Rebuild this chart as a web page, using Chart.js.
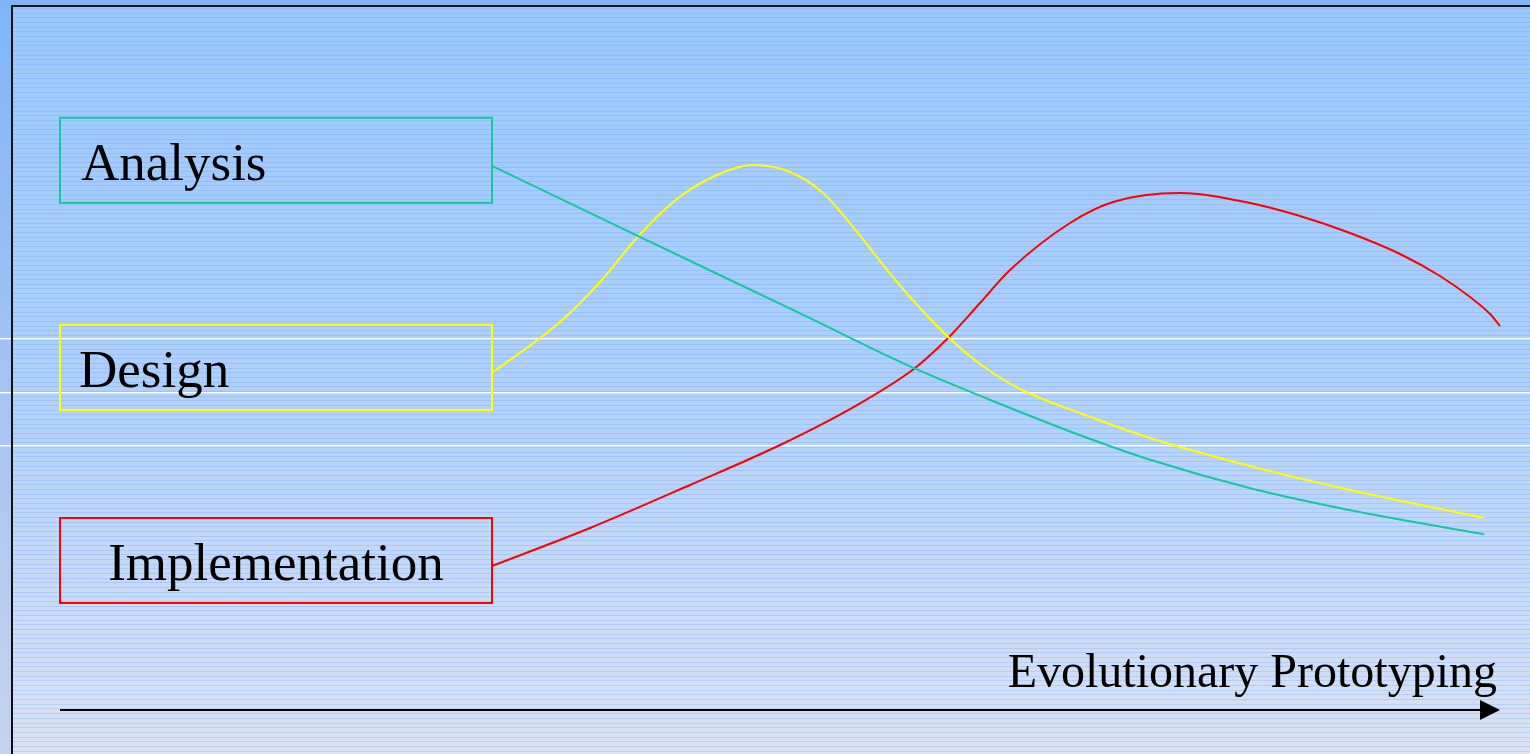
<!DOCTYPE html>
<html>
<head>
<meta charset="utf-8">
<title>Evolutionary Prototyping</title>
<script src="https://cdn.jsdelivr.net/npm/chart.js@4/dist/chart.umd.min.js"></script>
<style>
  html, body { margin: 0; padding: 0; background: #80b4f8; }
  #wrap { width: 1530px; height: 754px; position: relative; }
  canvas { display: block; }
</style>
</head>
<body>
<div id="wrap"><canvas id="chart" width="1530" height="754"></canvas></div>
<script>
// Phase names shown in the boxes, and the title on the time arrow
const phases = ['Analysis', 'Design', 'Implementation'];
const axisTitle = 'Evolutionary Prototyping';

// Effort per phase (0–100) along project progress (0–100)
const analysisX = [30.0, 40.3, 51.4, 59.0, 65.3, 71.5, 75.7, 82.6, 89.6, 98.9];
const analysisY = [90.7, 78.8, 66.1, 57.3, 51.0, 45.2, 41.7, 37.0, 33.3, 29.3];

const designX = [30.0, 34.72, 37.5, 40.14, 42.85, 45.63, 48.13, 50.69, 52.99, 55.35, 56.94, 59.03, 61.6, 63.89, 66.67, 70.83, 75.69, 82.64, 89.58, 98.89];
const designY = [56.17, 64.67, 71.33, 78.92, 85.17, 89.17, 90.83, 89.67, 86.17, 79.67, 74.83, 68.83, 62.33, 57.67, 53.5, 49.5, 45.33, 40.67, 36.67, 32.0];

const implementationX = [30.0, 36.81, 43.75, 50.0, 55.35, 59.38, 61.6, 63.89, 65.97, 70.14, 73.13, 77.78, 82.64, 86.11, 89.58, 93.06, 95.83, 97.92, 99.31, 100.0];
const implementationY = [24.0, 30.33, 37.5, 44.17, 50.83, 57.0, 61.83, 67.83, 73.33, 81.17, 84.67, 86.17, 84.5, 82.33, 79.5, 76.0, 72.33, 68.83, 66.0, 64.0];

const colors = ['rgb(20,200,160)', '#ffff00', '#ff0000'];

function toPoints(xs, ys) {
  return xs.map((x, i) => ({ x: x, y: ys[i] }));
}

// Striped blue backdrop, white rules and the dark frame
const backdrop = {
  id: 'backdrop',
  beforeDraw(chart) {
    const ctx = chart.ctx;
    const W = chart.width, H = chart.height;
    ctx.save();
    const outer = ctx.createLinearGradient(0, 0, 0, H);
    outer.addColorStop(0, 'rgb(128,180,250)');
    outer.addColorStop(1, 'rgb(198,212,236)');
    ctx.fillStyle = outer;
    ctx.fillRect(0, 0, W, H);

    const inner = ctx.createLinearGradient(0, 6, 0, H);
    inner.addColorStop(0, 'rgb(154,200,254)');
    inner.addColorStop(0.5, 'rgb(174,208,250)');
    inner.addColorStop(1, 'rgb(218,226,244)');
    ctx.fillStyle = inner;
    ctx.fillRect(12, 6, W - 12, H - 6);

    ctx.fillStyle = 'rgba(90,145,235,0.22)';
    for (let y = 8; y < H; y += 4.67) {
      ctx.fillRect(12, Math.round(y), W - 12, 1);
    }

    ctx.fillStyle = '#ffffff';
    [338, 392, 445].forEach(y => ctx.fillRect(0, y, W, 1.4));

    ctx.fillStyle = '#111111';
    ctx.fillRect(11, 5, W - 11, 2);
    ctx.fillRect(11, 5, 2, H - 5);
    ctx.restore();
  }
};

// Phase boxes anchored to each curve's first point, plus the time arrow
const annotations = {
  id: 'annotations',
  afterDatasetsDraw(chart) {
    const ctx = chart.ctx;
    const area = chart.chartArea;
    const xs = chart.scales.x, ys = chart.scales.y;
    const align = [{ mode: 'left', dx: 21 }, { mode: 'left', dx: 19 }, { mode: 'center', dx: 0 }];
    ctx.save();
    chart.data.datasets.forEach((ds, i) => {
      const p0 = chart.getDatasetMeta(i).data[0];
      const left = area.left;
      const right = p0.x;
      const top = p0.y - 48;
      const h = 85;
      ctx.strokeStyle = ds.borderColor;
      ctx.lineWidth = 2;
      ctx.strokeRect(left, top, right - left, h);

      ctx.fillStyle = '#000000';
      ctx.font = '53px "Liberation Serif", "Times New Roman", serif';
      ctx.textBaseline = 'alphabetic';
      if (align[i].mode === 'center') {
        ctx.textAlign = 'center';
        ctx.fillText(ds.label, (left + right) / 2, top + 62);
      } else {
        ctx.textAlign = 'left';
        ctx.fillText(ds.label, left + align[i].dx, top + 62);
      }
    });

    // time arrow
    const y0 = ys.getPixelForValue(0);
    const xStart = xs.getPixelForValue(0);
    const xEnd = xs.getPixelForValue(100);
    ctx.strokeStyle = '#000000';
    ctx.lineWidth = 2;
    ctx.beginPath();
    ctx.moveTo(xStart, y0);
    ctx.lineTo(xEnd - 18, y0);
    ctx.stroke();
    ctx.fillStyle = '#000000';
    ctx.beginPath();
    ctx.moveTo(xEnd - 20, y0 - 10);
    ctx.lineTo(xEnd, y0);
    ctx.lineTo(xEnd - 20, y0 + 10);
    ctx.closePath();
    ctx.fill();

    ctx.font = '48px "Liberation Serif", "Times New Roman", serif';
    ctx.textAlign = 'right';
    ctx.fillText(axisTitle, xEnd - 3, y0 - 23);
    ctx.restore();
  }
};

new Chart(document.getElementById('chart'), {
  type: 'line',
  data: {
    datasets: [
      { label: phases[0], data: toPoints(analysisX, analysisY), borderColor: colors[0] },
      { label: phases[1], data: toPoints(designX, designY), borderColor: colors[1] },
      { label: phases[2], data: toPoints(implementationX, implementationY), borderColor: colors[2] }
    ]
  },
  options: {
    responsive: false,
    animation: false,
    layout: { padding: { left: 60, right: 30, top: 110, bottom: 44 } },
    scales: {
      x: { type: 'linear', min: 0, max: 100, display: false },
      y: { type: 'linear', min: 0, max: 100, display: false }
    },
    elements: {
      point: { radius: 0, hoverRadius: 0 },
      line: { borderWidth: 2, cubicInterpolationMode: 'monotone', fill: false }
    },
    datasets: { line: { clip: false } },
    plugins: {
      legend: { display: false },
      tooltip: { enabled: false },
      title: { display: false }
    },
    events: []
  },
  plugins: [backdrop, annotations]
});
</script>
</body>
</html>
